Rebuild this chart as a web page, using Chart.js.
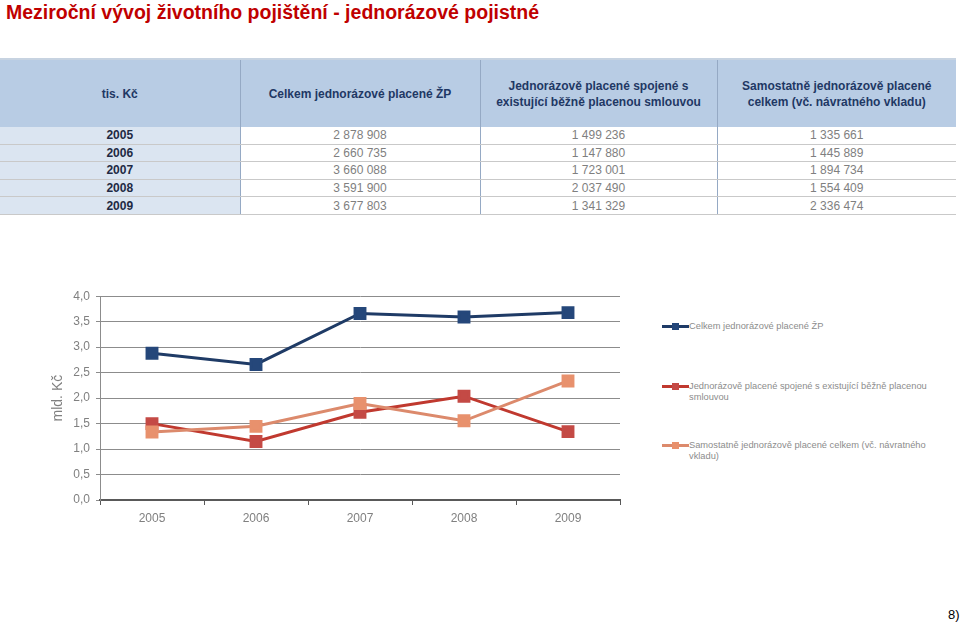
<!DOCTYPE html>
<html lang="cs">
<head>
<meta charset="utf-8">
<script src="https://cdn.jsdelivr.net/npm/chart.js@4"></script>
<style>
  body { margin: 0; width: 960px; height: 625px; background: #fff; font-family: "Liberation Sans", Arial, sans-serif; position: relative; overflow: hidden; }
  h1 { position: absolute; left: 6px; top: 1px; margin: 0; font-size: 19.5px; font-weight: bold; color: #c00000; }
  table { position: absolute; left: 0; top: 58px; width: 956px; border-collapse: collapse; table-layout: fixed; font-size: 12px; }
  th { background: #b8cce4; color: #1f3864; font-weight: bold; height: 67px; padding: 0 6px; border-left: 1px solid #95a9c4; border-top: 2px solid #c7d3e1; line-height: 16px; }
  th:first-child { border-left: none; }
  td { height: 16.6px; padding: 0; text-align: center; border-bottom: 1px solid #c9c9c9; color: #7f7f7f; }
  td.year { background: #dbe5f1; color: #1f2a44; font-weight: bold; border-right: 1px solid #95a9c4; }
  td.mid { border-right: 1px solid #95a9c4; }
  #wrap { position: absolute; left: 40px; top: 283px; width: 590px; height: 252px; }
  #legend { position: absolute; left: 662px; top: 320px; width: 290px; font-size: 9.3px; color: #8c8c8c; }
  .item { position: absolute; left: 0; display: flex; align-items: flex-start; }
  .sw { position: relative; width: 27px; height: 12px; flex: none; }
  .sw i { position: absolute; left: 0; top: 5px; width: 27px; height: 3px; }
  .sw b { position: absolute; left: 10px; top: 3px; width: 7px; height: 7px; }
  .lbl { line-height: 11px; margin-top: 1px; max-width: 240px; }
  #note { position: absolute; left: 948px; top: 607px; font-size: 13px; color: #000; }
</style>
</head>
<body>
<h1>Meziroční vývoj životního pojištění - jednorázové pojistné</h1>
<table id="tbl"><colgroup><col style="width:240px"><col style="width:240px"><col style="width:237px"><col style="width:239px"></colgroup></table>
<div id="wrap"><canvas id="chart"></canvas></div>
<div id="legend"></div>
<div id="note">8)</div>
<script>
const years = ['2005', '2006', '2007', '2008', '2009'];
const columnHeads = ['tis. Kč', 'Celkem jednorázové placené ŽP', 'Jednorázově placené spojené s<br>existující běžně placenou smlouvou', 'Samostatně jednorázově placené<br>celkem (vč. návratného vkladu)'];
const seriesNames = ['Celkem jednorázové placené ŽP', 'Jednorázově placené spojené s existující běžně placenou<br>smlouvou', 'Samostatně jednorázově placené celkem (vč. návratného<br>vkladu)'];
// tis. Kč
const total = [2878908, 2660735, 3660088, 3591900, 3677803];
const linked = [1499236, 1147880, 1723001, 2037490, 1341329];
const standalone = [1335661, 1445889, 1894734, 1554409, 2336474];
const yTicks = ['0,0', '0,5', '1,0', '1,5', '2,0', '2,5', '3,0', '3,5', '4,0'];

const lineColors = ['#1f3b66', '#c0392f', '#dc8a6c'];
const markColors = ['#25477a', '#c44a45', '#e8916d'];

// table
const fmt = v => String(v).replace(/\B(?=(\d{3})+(?!\d))/g, ' ');
let html = '<tr>' + columnHeads.map(h => `<th>${h}</th>`).join('') + '</tr>';
years.forEach((y, i) => {
  html += `<tr><td class="year">${y}</td><td class="mid">${fmt(total[i])}</td><td class="mid">${fmt(linked[i])}</td><td>${fmt(standalone[i])}</td></tr>`;
});
document.getElementById('tbl').insertAdjacentHTML('beforeend', html);

// chart
const series = [total, linked, standalone];
new Chart(document.getElementById('chart'), {
  type: 'line',
  data: {
    labels: years,
    datasets: series.map((s, i) => ({
      label: seriesNames[i].replace('<br>', ' '),
      data: s.map(v => v / 1e6),
      borderColor: lineColors[i],
      backgroundColor: markColors[i],
      pointBackgroundColor: markColors[i],
      pointBorderColor: markColors[i],
      borderWidth: 3,
      pointStyle: 'rect',
      pointRadius: 7,
      tension: 0
    })).reverse()
  },
  options: {
    responsive: true,
    maintainAspectRatio: false,
    animation: false,
    layout: { padding: { top: 0, right: 0, left: 10, bottom: 0 } },
    plugins: { legend: { display: false }, tooltip: { enabled: false } },
    scales: {
      x: {
        offset: true,
        grid: { offset: true, drawOnChartArea: false, drawTicks: true, tickLength: 5, color: '#595959' },
        border: { color: '#595959', width: 2 },
        ticks: { color: '#808080', font: { family: 'Liberation Sans', size: 12 }, padding: 6 },
        afterFit: s => { s.height = 35; }
      },
      y: {
        min: 0, max: 4,
        ticks: {
          stepSize: 0.5, color: '#808080', padding: 6,
          font: { family: 'Liberation Sans', size: 12 },
          callback: (v, i) => yTicks[i]
        },
        grid: { color: '#8c8c8c', tickLength: 4, lineWidth: 1 },
        border: { color: '#8c8c8c' },
        title: { display: true, text: 'mld. Kč', color: '#808080', font: { family: 'Liberation Sans', size: 14 }, padding: 0 },
        afterFit: s => { s.width = 50; }
      }
    }
  }
});

// legend
const tops = [0, 60, 119];
document.getElementById('legend').innerHTML = seriesNames.map((n, i) =>
  `<div class="item" style="top:${tops[i]}px"><div class="sw"><i style="background:${lineColors[i]}"></i><b style="background:${markColors[i]}"></b></div><div class="lbl">${n}</div></div>`
).join('');
</script>
</body>
</html>
